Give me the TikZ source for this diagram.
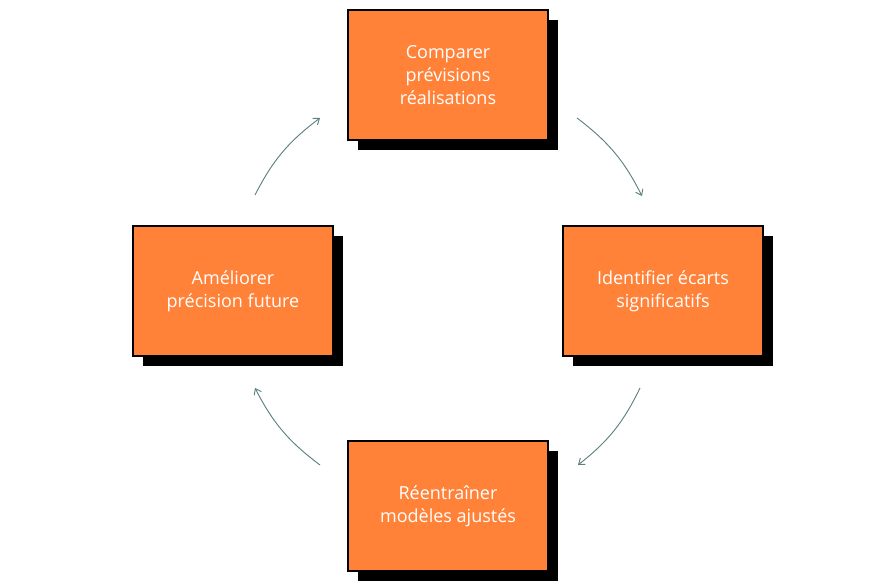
\documentclass[tikz,border=0pt]{standalone}
\usepackage{fontspec}
\setmainfont{Open Sans}
\usetikzlibrary{arrows.meta}
\begin{document}
\begin{tikzpicture}[x=0.75pt,y=-0.75pt,
  boxst/.style={draw=black,line width=0.9pt,fill={rgb,255:red,255;green,130;blue,56},minimum width=150pt,minimum height=97.5pt,inner sep=0pt,text=white,align=center,font=\fontsize{13.5}{17}\selectfont},
  shd/.style={fill=black,minimum width=150pt,minimum height=97.5pt,inner sep=0pt},
  arr/.style={draw={rgb,255:red,95;green,128;blue,128},line width=0.7pt,-{Straight Barb[length=4pt,width=6pt]},bend left=13}]
\useasboundingbox (0,0) rectangle (883,588);
\foreach \n/\x/\y in {t/448/75,r/663/291,b/448/506,l/233/291}{
  \node[shd] (s\n) at (\x+10,\y+10) {};
}
\node[boxst] (t) at (448,75) {Comparer\\prévisions\\réalisations};
\node[boxst] (r) at (663,291) {Identifier écarts\\significatifs};
\node[boxst] (b) at (448,506) {Réentraîner\\modèles ajustés};
\node[boxst] (l) at (233,291) {Améliorer\\précision future};
\coordinate (a1) at (577,118); \coordinate (a2) at (642,196);
\coordinate (b1) at (640,388); \coordinate (b2) at (578,465);
\coordinate (c1) at (320,465); \coordinate (c2) at (255,388);
\coordinate (d1) at (255,195); \coordinate (d2) at (320,118);
\draw[arr] (a1) to (a2);
\draw[arr] (b1) to (b2);
\draw[arr] (c1) to (c2);
\draw[arr] (d1) to (d2);
\end{tikzpicture}
\end{document}
